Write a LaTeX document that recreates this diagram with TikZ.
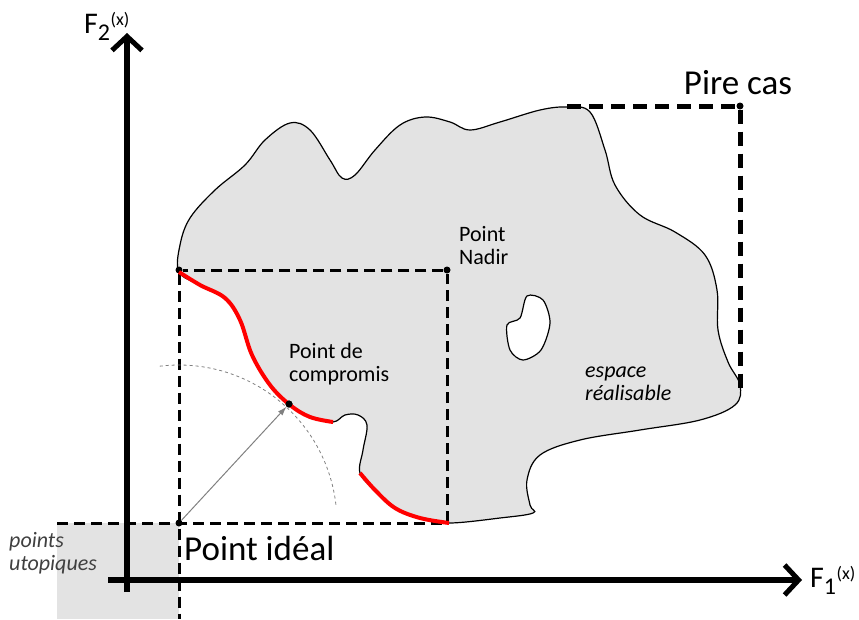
\documentclass[tikz,border=0pt]{standalone}
\usepackage{fontspec}
\setmainfont{Carlito}
\usepackage{tikz}
\usetikzlibrary{arrows.meta,calc,positioning}

\begin{document}
\begin{tikzpicture}[x=1pt,y=-1pt,
  pt/.style={circle,fill=black,inner sep=0pt,minimum size=7pt},
  lab/.style={inner sep=0pt,align=left,font=\fontsize{22}{23}\selectfont},
  biglab/.style={inner sep=0pt,font=\fontsize{35}{38}\selectfont},
  axis/.style={line width=6pt,-{Straight Barb[length=14pt,width=30pt,line width=5pt]}},
  box/.style={line width=3pt,dash pattern=on 11pt off 6pt},
  worst/.style={line width=5pt,dash pattern=on 14pt off 8pt},
  front/.style={red,line width=4pt},
  region/.style={fill=black!11}]
\useasboundingbox (0,0) rectangle (859,619);

% points utopiques
\fill[region] (57,523) rectangle (179,619);

% espace realisable
\draw[region,line width=1.2pt] plot[smooth cycle,tension=0.6] coordinates {
  (179,272) (180,245) (190,218) (215,190) (245,165) (265,140) (290,123)
  (310,130) (330,160) (342,178) (355,175) (375,150) (400,125) (425,117)
  (450,122) (470,130) (500,122) (540,110) (567,107) (590,112) (605,150)
  (615,185) (640,215) (675,232) (705,255) (717,290) (718,330) (728,362)
  (740,385) (735,405) (700,420) (640,430) (580,440) (540,455) (527,480)
  (530,505) (533,513) (500,518) (449,523) (420,518) (395,508) (375,490)
  (360,473) (363,450) (367,425) (358,415) (345,415) (333,422) (310,417)
  (290,405) (270,385) (252,355) (240,320) (225,298) (200,285)};
\draw[fill=white,line width=1.2pt] plot[smooth cycle] coordinates {
  (527,296) (543,300) (550,323) (541,350) (523,360) (510,350) (507,325)
  (520,318)};

% points
\node[pt] (ideal) at (179,523) {};
\node[pt] (nadir) at (447,270) {};
\node[pt] (top) at (179,270) {};
\node[pt] (comp) at (289,404) {};
\node[pt] (pire) at (740,106) {};
\coordinate (low) at (447,523);
\coordinate (utop) at (57,523);
\coordinate (foot) at (179,619);
\coordinate (pirew) at (567,106);
\coordinate (pires) at (740,392);

% bornes
\draw[box] (utop) -- (low) -- (nadir) -- (top) -- (foot);
\draw[worst] (pirew) -- (pire) -- (pires);

% axes
\draw[axis] (127,592) -- (127,33);
\draw[axis] (108,580) -- (802,580);

% front de Pareto
\draw[front] plot[smooth,tension=0.6] coordinates {
  (449,523) (420,518) (395,508) (375,490) (360,473)};
\draw[front] plot[smooth,tension=0.6] coordinates {
  (333,422) (310,417) (290,405) (270,385) (252,355) (240,320) (225,298)
  (200,285) (179,272)};

\draw[gray,dashed,line width=0.8pt] (ideal) ++(-97:158) arc[start angle=-97,end angle=-6,radius=158];
\draw[gray,line width=1pt,-{Latex[length=9pt,width=6pt]}] (ideal) -- (comp);
\node[pt] at (comp) {};

% textes
\node[biglab,anchor=west] (idealtxt) at (184,548) {Point idéal};
\node[biglab] (piretxt) at (738,83) {Pire cas};
\node[lab,anchor=north west] (nadirtxt) at (459,226) {Point\\Nadir};
\node[lab,anchor=north west] (comptxt) at (289,343) {Point de\\compromis};
\node[lab,anchor=north west,font=\fontsize{22}{23}\selectfont\itshape] (esptxt) at (585,367) {espace\\réalisable};
\node[lab,anchor=north west,text=black!75,font=\fontsize{22}{23}\selectfont\itshape] (utotxt) at (9,532) {points\\utopiques};
\node[inner sep=0pt,anchor=west,font=\fontsize{30}{32}\selectfont] (f2) at (84,26) {F\textsubscript{\fontsize{24}{24}\selectfont 2}\raisebox{8pt}{\fontsize{18}{18}\selectfont(x)}};
\node[inner sep=0pt,anchor=west,font=\fontsize{30}{32}\selectfont] (f1) at (810,580) {F\textsubscript{\fontsize{24}{24}\selectfont 1}\raisebox{8pt}{\fontsize{18}{18}\selectfont(x)}};
\end{tikzpicture}
\end{document}
